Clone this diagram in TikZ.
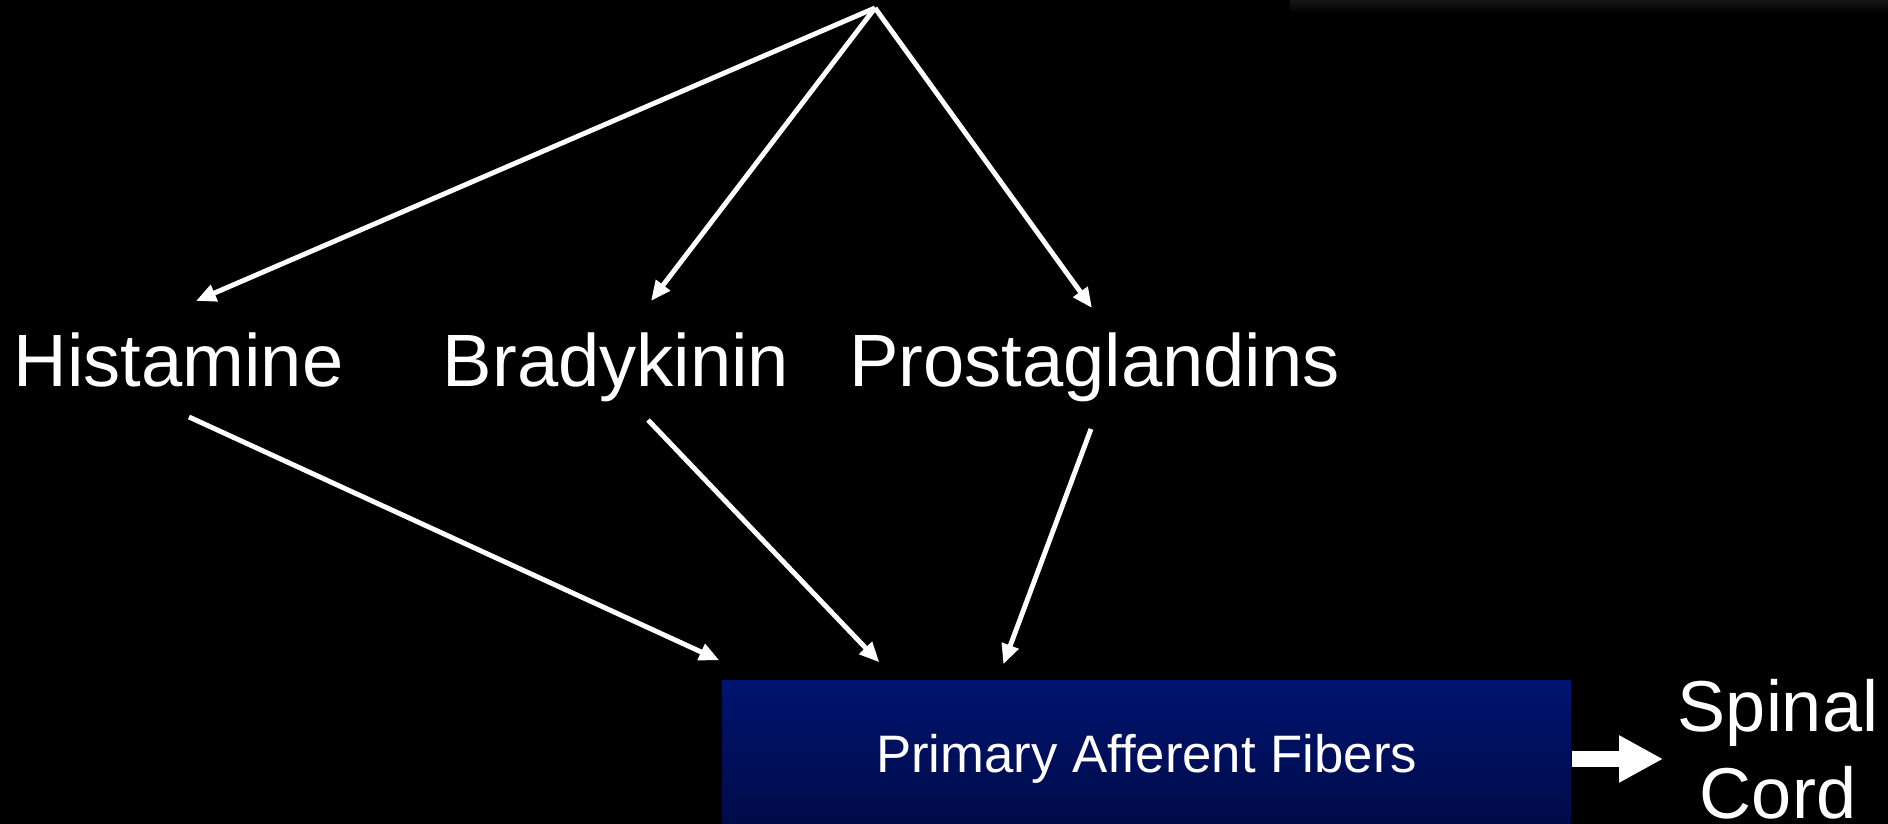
\documentclass[tikz,border=0pt]{standalone}
\usepackage{fontspec}
\setmainfont{Liberation Sans}
\usetikzlibrary{arrows.meta,positioning,calc}
\definecolor{fibtop}{HTML}{001470}
\definecolor{fibbot}{HTML}{000A45}
\definecolor{haze}{HTML}{161616}
\tikzset{
  agent/.style={inner sep=0pt, anchor=base, text=white, font=\fontsize{21.1}{25}\selectfont},
  fibre/.style={rectangle, draw=none, top color=fibtop, bottom color=fibbot, text=white,
                minimum width=8.49cm, minimum height=1.56cm, inner sep=0pt,
                font=\fontsize{15}{18}\selectfont},
  arr/.style={-{Triangle[length=2mm, width=1.7mm]}, line width=1.4pt, draw=white},
  fatarr/.style={-{Triangle[length=4.4mm, width=4.4mm]}, line width=4.3pt, draw=white},
}
\begin{document}
\begin{tikzpicture}
    \fill[black] (0,0) rectangle (18.88,8.24);
    \useasboundingbox (0,0) rectangle (18.88,8.24);
    \shade[top color=haze, bottom color=black, draw=none] (12.9,8.12) rectangle (18.88,8.24);
    \coordinate (src) at (8.75,8.16);
    \node[agent] (hist) at (1.785,4.37) {Histamine};
    \node[agent] (brady) at (6.16,4.37) {Bradykinin};
    \node[agent] (prost) at (10.945,4.37) {Prostaglandins};
    \node[fibre] (paf) at (11.465,0.65) {Primary Afferent Fibers};
    \node[text=white, align=center, inner sep=0pt, font=\fontsize{20.5}{24.8}\selectfont] (cord) at (17.78,0.745) {Spinal\\Cord};
    \draw[arr] (src) -- ($(hist.base)+(0.175,0.86)$);
    \draw[arr] (src) -- ($(brady.base)+(0.35,0.86)$);
    \draw[arr] (src) -- ($(prost.base)+(-0.025,0.79)$);
    \draw[arr] ($(hist.base)+(0.105,-0.30)$) -- ($(paf.north west)+(-0.02,0.20)$);
    \draw[arr] ($(brady.base)+(0.32,-0.33)$) -- ($(paf.north west)+(1.58,0.18)$);
    \draw[arr] ($(prost.base)+(-0.035,-0.42)$) -- ($(paf.north west)+(2.82,0.16)$);
    \draw[fatarr] (paf.east) -- ($(paf.east -| cord.west)+(-0.14,0)$);
  \end{tikzpicture}
\end{document}
